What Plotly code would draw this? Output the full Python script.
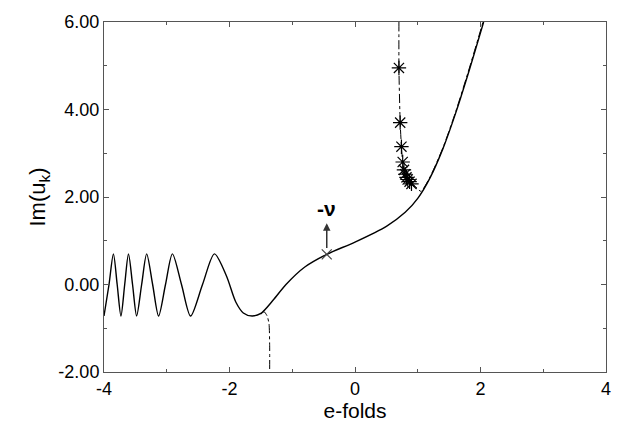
import plotly.graph_objects as go

# main solid curve
main_x = [-4.00, -3.92, -3.85, -3.79, -3.73, -3.67, -3.61, -3.545, -3.48, -3.40, -3.32, -3.225, -3.13,
          -3.02, -2.91, -2.765, -2.62, -2.43, -2.24, -2.05, -1.90, -1.78, -1.64, -1.50, -1.30, -1.10,
          -0.80, -0.45, 0.00, 0.50, 0.80, 1.00, 1.20, 1.40, 1.60, 1.80, 2.05]
main_y = [-0.72, 0.00, 0.70, 0.00, -0.72, 0.00, 0.70, 0.00, -0.72, 0.00, 0.70, 0.00, -0.72,
          0.00, 0.70, 0.00, -0.72, 0.00, 0.70, 0.20, -0.40, -0.65, -0.72, -0.66, -0.35, 0.00,
          0.40, 0.69, 0.97, 1.33, 1.65, 1.97, 2.45, 3.10, 3.90, 4.80, 6.00]

# dash-dot branches
low_x = [-1.50, -1.45, -1.40, -1.37, -1.36, -1.36]
low_y = [-0.68, -0.62, -0.72, -0.90, -1.40, -2.00]
up_x = [0.70, 0.70, 0.72, 0.74, 0.76, 0.80, 0.86, 0.95, 1.05, 1.20, 1.40, 1.60, 1.80, 2.04]
up_y = [6.00, 4.95, 3.70, 3.15, 2.80, 2.50, 2.36, 2.26, 2.13, 2.47, 3.12, 3.93, 4.84, 6.00]

# asterisk points
star_x = [0.70, 0.72, 0.74, 0.76, 0.78, 0.80, 0.82, 0.84, 0.87, 0.90]
star_y = [4.95, 3.70, 3.15, 2.80, 2.62, 2.52, 2.45, 2.40, 2.35, 2.30]

# -nu marker
nu_x = [-0.45]
nu_y = [0.69]

x_ticks = [-4, -2, 0, 2, 4]
y_ticks = [-2, 0, 2, 4, 6]

FONT = "Liberation Sans"

fig = go.Figure()
fig.add_trace(go.Scatter(x=main_x, y=main_y, mode="lines",
                         line=dict(color="black", width=1.4, shape="spline", smoothing=0.8)))
fig.add_trace(go.Scatter(x=low_x, y=low_y, mode="lines",
                         line=dict(color="black", width=1, dash="dashdot", shape="spline", smoothing=0.6)))
fig.add_trace(go.Scatter(x=up_x, y=up_y, mode="lines",
                         line=dict(color="black", width=1, dash="dashdot", shape="spline", smoothing=0.6)))
fig.add_trace(go.Scatter(x=star_x, y=star_y, mode="markers",
                         marker=dict(symbol="asterisk-open", size=12, color="black",
                                     line=dict(color="black", width=1.2))))
fig.add_trace(go.Scatter(x=nu_x, y=nu_y, mode="markers",
                         marker=dict(symbol="x-thin-open", size=10, color="#444",
                                     line=dict(color="#444", width=1.2))))

fig.add_annotation(x=-0.45, y=1.40, ax=-0.45, ay=0.80, xref="x", yref="y", axref="x", ayref="y",
                   text="", showarrow=True, arrowhead=2, arrowsize=1, arrowwidth=1.5, arrowcolor="#333")
fig.add_annotation(x=-0.45, y=1.74, xref="x", yref="y", text="<b>-ν</b>", showarrow=False,
                   font=dict(size=21, color="black", family=FONT))

axis_common = dict(showgrid=False, zeroline=False, showline=True, linecolor="#555", linewidth=1,
                   mirror="allticks", ticks="inside", ticklen=5, tickcolor="#555",
                   tickfont=dict(size=18, color="black", family=FONT))
fig.update_xaxes(range=[-4, 4], tickvals=x_ticks, ticktext=[str(v) for v in x_ticks],
                 minor=dict(dtick=1, ticks="inside", ticklen=3, tickcolor="#555"),
                 title=dict(text="e-folds", font=dict(size=21, color="black", family=FONT), standoff=2),
                 **axis_common)
fig.update_yaxes(range=[-2, 6], tickvals=y_ticks, ticktext=[f"{v:.2f}" for v in y_ticks],
                 minor=dict(dtick=1, ticks="inside", ticklen=3, tickcolor="#555"),
                 title=dict(text="Im(u<sub>k</sub>)", font=dict(size=22, color="black", family=FONT), standoff=6),
                 **axis_common)
fig.update_layout(width=626, height=427, margin=dict(l=104, r=20, t=13, b=52),
                  plot_bgcolor="white", paper_bgcolor="white", showlegend=False)
fig.write_html("out.html")
